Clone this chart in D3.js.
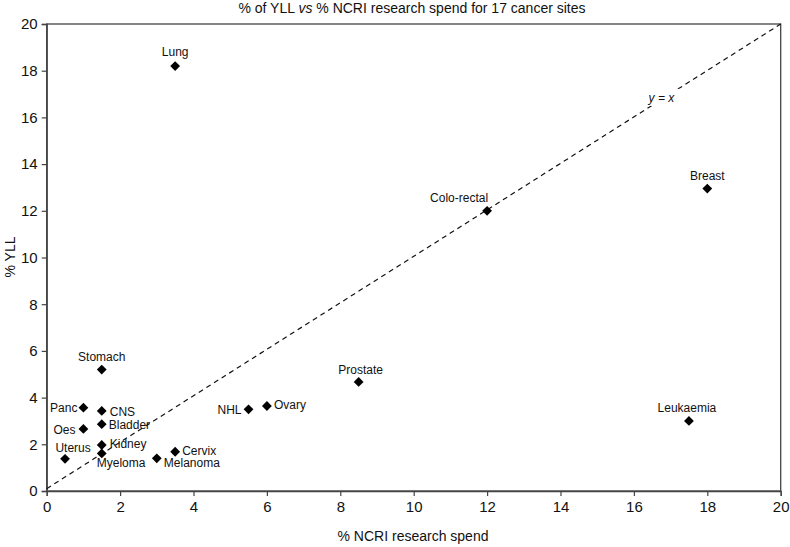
<!DOCTYPE html>
<html><head><meta charset="utf-8">
<script src="https://cdn.jsdelivr.net/npm/d3@7"></script>
<style>body{margin:0;background:#fff}svg{display:block}text{font-family:"Liberation Sans",Arial,sans-serif}</style>
</head><body>
<svg id="chart" width="790" height="547"></svg>
<script>
const sites = ["Lung","Breast","Colo-rectal","Prostate","Leukaemia","Stomach","Panc","CNS","Oes","Bladder","Kidney","Myeloma","Uterus","Melanoma","Cervix","NHL","Ovary"];
const spend = [3.5,18.0,12.0,8.5,17.5,1.5,1.0,1.5,1.0,1.5,1.5,1.5,0.5,3.0,3.5,5.5,6.0];
const yll   = [18.2,12.95,12.0,4.67,3.0,5.2,3.57,3.43,2.66,2.86,1.97,1.61,1.38,1.4,1.68,3.5,3.64];
const xTicks = [0,2,4,6,8,10,12,14,16,18,20];
const yTicks = [0,2,4,6,8,10,12,14,16,18,20];
const title = ["% of YLL ", "vs", " % NCRI research spend for 17 cancer sites"];
const xLabel = "% NCRI research spend";
const yLabel = "% YLL";
const refLabel = "y = x";

// label placement (style only): [dx, dy, anchor]
const place = {
  "Lung":[0,-10,"middle"],"Breast":[0,-9,"middle"],"Colo-rectal":[1,-9,"end"],
  "Prostate":[2,-8,"middle"],"Leukaemia":[-2,-9,"middle"],"Stomach":[0,-9,"middle"],
  "Panc":[-6,4,"end"],"CNS":[8,5,"start"],"Oes":[-8,5,"end"],"Bladder":[7,5,"start"],
  "Kidney":[8,3,"start"],"Myeloma":[-5,14,"start"],"Uterus":[8,-7,"middle"],
  "Melanoma":[7,9,"start"],"Cervix":[7,3,"start"],"NHL":[-7,5,"end"],"Ovary":[7,3,"start"]
};

const svg = d3.select("#chart");
const m = {l:46.7, r:780.7, t:24, b:491};
const x = d3.scaleLinear().domain([0,20]).range([m.l,m.r]);
const y = d3.scaleLinear().domain([0,20]).range([m.b,m.t]);
const axisColor = "#444";

// frame
svg.append("rect").attr("x",m.l).attr("y",m.t).attr("width",m.r-m.l).attr("height",m.b-m.t)
  .attr("fill","none").attr("stroke",axisColor).attr("stroke-width",1.3);

const xa = svg.append("g").attr("transform",`translate(0,${m.b})`)
  .call(d3.axisBottom(x).tickValues(xTicks).tickSize(5).tickPadding(5).tickFormat(d3.format("d")));
const ya = svg.append("g").attr("transform",`translate(${m.l},0)`)
  .call(d3.axisLeft(y).tickValues(yTicks).tickSize(5).tickPadding(4).tickFormat(d3.format("d")));
[xa,ya].forEach(a=>{
  a.select(".domain").attr("stroke",axisColor).attr("stroke-width",1.3);
  a.selectAll(".tick line").attr("stroke",axisColor).attr("stroke-width",1.2);
  a.selectAll(".tick text").attr("fill","#111").style("font-size","15px");
});

// y = x reference line
svg.append("line").attr("x1",x(0)).attr("y1",y(0.1)).attr("x2",x(20)).attr("y2",y(20))
  .attr("stroke","#111").attr("stroke-width",1.2).attr("stroke-dasharray","5,4");
const refG = svg.append("g").attr("transform",`translate(${x(16.75)},${y(16.75)})`);
refG.append("rect").attr("x",-20).attr("y",-11).attr("width",40).attr("height",17).attr("fill","#fff");
refG.append("text").attr("text-anchor","middle").attr("y",2).style("font-size","12px")
  .style("font-style","italic").attr("fill","#111").text(refLabel);

// points
const data = sites.map((s,i)=>({s, x:spend[i], y:yll[i]}));
const sym = d3.symbol().type(d3.symbolSquare).size(48);
svg.append("g").selectAll("path").data(data).join("path")
  .attr("d",sym).attr("fill","#000")
  .attr("transform",d=>`translate(${x(d.x)},${y(d.y)}) rotate(45)`);
svg.append("g").selectAll("text").data(data).join("text")
  .attr("x",d=>x(d.x)+place[d.s][0]).attr("y",d=>y(d.y)+place[d.s][1])
  .attr("text-anchor",d=>place[d.s][2])
  .style("font-size","12px").attr("fill","#111").text(d=>d.s);

// title
const t = svg.append("text").attr("x",412).attr("y",13).attr("text-anchor","middle")
  .style("font-size","14px").attr("fill","#111");
t.append("tspan").text(title[0]);
t.append("tspan").style("font-style","italic").text(title[1]);
t.append("tspan").text(title[2]);

svg.append("text").attr("x",413).attr("y",541).attr("text-anchor","middle")
  .style("font-size","14px").attr("fill","#111").text(xLabel);
svg.append("text").attr("transform","translate(15,257) rotate(-90)").attr("text-anchor","middle")
  .style("font-size","14px").attr("fill","#111").text(yLabel);
</script>
</body></html>
